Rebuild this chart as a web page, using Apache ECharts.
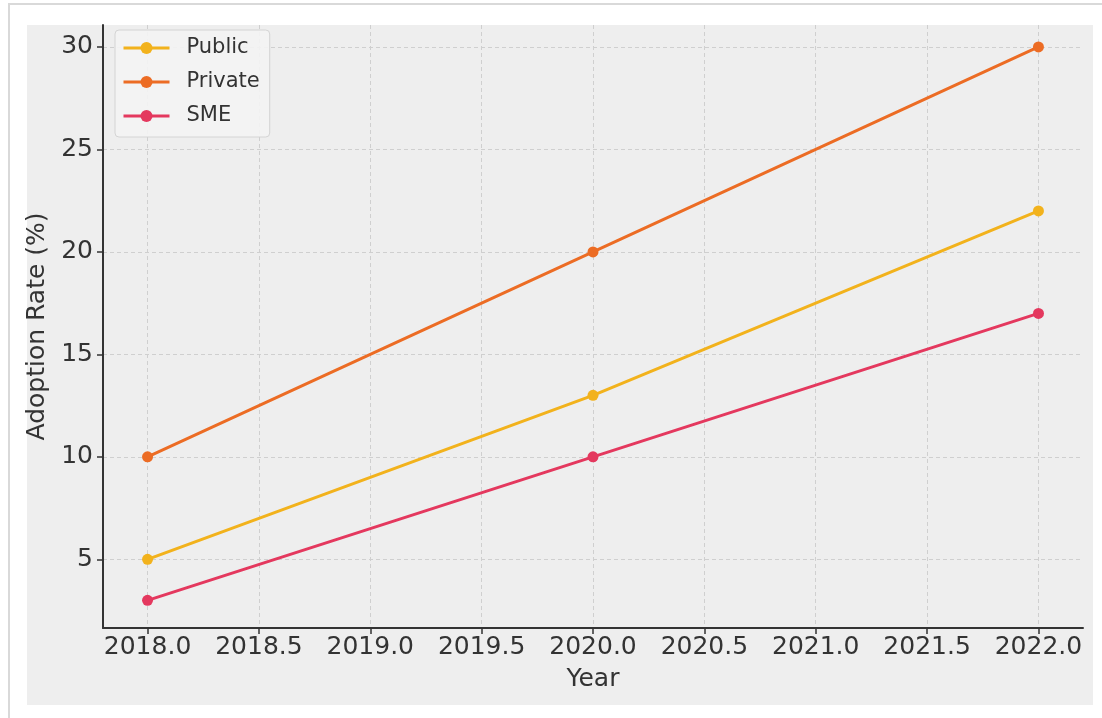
<!DOCTYPE html>
<html>
<head>
<meta charset="utf-8">
<script src="https://cdn.jsdelivr.net/npm/echarts@6/dist/echarts.min.js"></script>
<style>
html,body{margin:0;padding:0;background:#ffffff;}
#chart{width:1102px;height:718px;}
</style>
</head>
<body>
<div id="chart"></div>
<script>
// ---- data ----
const years = [2018, 2020, 2022];
const publicRate = [5, 13, 22];
const privateRate = [10, 20, 30];
const smeRate = [3, 10, 17];
const seriesNames = ['Public', 'Private', 'SME'];
const xTicks = [2018.0, 2018.5, 2019.0, 2019.5, 2020.0, 2020.5, 2021.0, 2021.5, 2022.0];
const yTicks = [5, 10, 15, 20, 25, 30];

const colors = ['#f2b21c', '#ec6c24', '#e4385e'];
const font = 'DejaVu Sans';

const chart = echarts.init(document.getElementById('chart'));

function mk(name, vals, color) {
  return {
    name: name,
    type: 'line',
    data: years.map((y, i) => [y, vals[i]]),
    symbol: 'circle',
    symbolSize: 11,
    lineStyle: { width: 3, color: color },
    itemStyle: { color: color },
    emphasis: { disabled: true },
    animation: false
  };
}

const option = {
  animation: false,
  graphic: [
    { type: 'rect', z: -10, silent: true, shape: { x: 9, y: 4, width: 1100, height: 720 },
      style: { fill: '#ffffff', stroke: '#d9d9d9', lineWidth: 2 } },
    { type: 'rect', z: -9, silent: true, shape: { x: 27, y: 25, width: 1066, height: 680 },
      style: { fill: '#eeeeee' } }
  ],
  grid: { left: 103, right: 19, top: 25, bottom: 90, containLabel: false },
  legend: {
    data: seriesNames,
    orient: 'vertical',
    left: 115,
    top: 30,
    padding: [6, 10, 9, 7],
    itemGap: 10,
    itemWidth: 46,
    itemHeight: 15,
    lineStyle: { width: 3 },
    backgroundColor: 'rgba(243,243,243,0.9)',
    borderColor: '#d4d4d4',
    borderWidth: 1,
    borderRadius: 4,
    textStyle: { fontFamily: font, fontSize: 21, color: '#333333', lineHeight: 24, padding: [0, 0, 0, 12] }
  },
  xAxis: {
    type: 'value',
    min: 2017.8,
    max: 2022.2,
    name: 'Year',
    nameLocation: 'middle',
    nameGap: 39,
    nameTextStyle: { fontFamily: font, fontSize: 25, color: '#333333' },
    axisLine: { show: true, onZero: false, lineStyle: { color: '#333333', width: 2 } },
    axisTick: { show: true, length: 6, customValues: xTicks, lineStyle: { color: '#333333', width: 1.5 } },
    axisLabel: { customValues: xTicks, margin: 7, fontFamily: font, fontSize: 25, color: '#333333',
      formatter: v => Number(v).toFixed(1) },
    splitLine: { show: true, lineStyle: { color: '#cfcfcf', type: [4, 3], width: 1 } }
  },
  yAxis: {
    type: 'value',
    min: 1.65,
    max: 31.07,
    name: 'Adoption Rate (%)',
    nameLocation: 'middle',
    nameGap: 52,
    nameTextStyle: { fontFamily: font, fontSize: 25, color: '#333333' },
    axisLine: { show: true, onZero: false, lineStyle: { color: '#333333', width: 2 } },
    axisTick: { show: true, length: 6, customValues: yTicks, lineStyle: { color: '#333333', width: 1.5 } },
    axisLabel: { customValues: yTicks, margin: 10, fontFamily: font, fontSize: 25, color: '#333333' },
    splitLine: { show: true, lineStyle: { color: '#cfcfcf', type: [4, 3], width: 1 } }
  },
  series: [
    mk(seriesNames[0], publicRate, colors[0]),
    mk(seriesNames[1], privateRate, colors[1]),
    mk(seriesNames[2], smeRate, colors[2])
  ]
};
chart.setOption(option);
</script>
</body>
</html>
